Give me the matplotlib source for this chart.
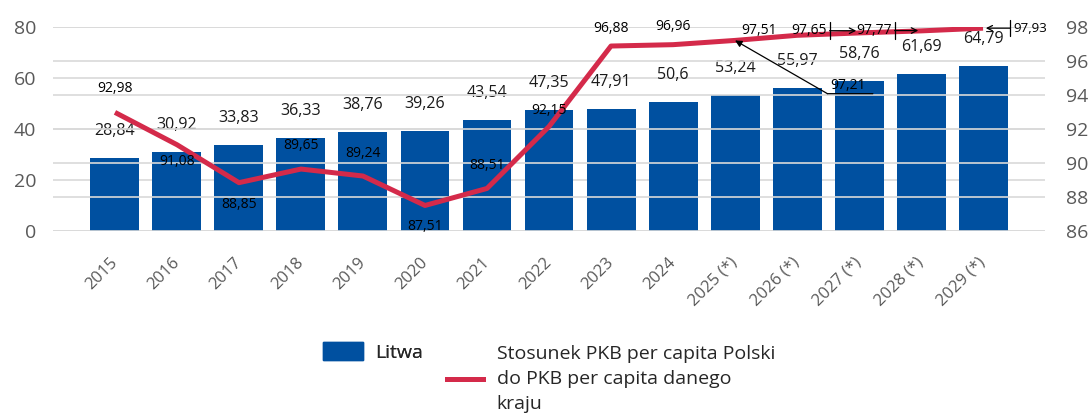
import matplotlib.pyplot as plt
import numpy as np

plt.rcParams['font.family'] = ['Open Sans', 'DejaVu Sans']

# data
years = ['2015', '2016', '2017', '2018', '2019', '2020', '2021', '2022', '2023', '2024',
         '2025 (*)', '2026 (*)', '2027 (*)', '2028 (*)', '2029 (*)']
litwa = [28.84, 30.92, 33.83, 36.33, 38.76, 39.26, 43.54, 47.35, 47.91, 50.6,
         53.24, 55.97, 58.76, 61.69, 64.79]
ratio = [92.98, 91.08, 88.85, 89.65, 89.24, 87.51, 88.51, 92.15, 96.88, 96.96,
         97.21, 97.51, 97.65, 97.77, 97.93]

# label offsets for the line labels (pixels)
ratio_off = [(0, 24), (0, -17), (0, -22), (0, 24), (0, 23), (0, -21), (0, 23), (0, 16),
             (0, 18), (0, 18), None, (-38, 5), None, None, None]

bar_col = '#0050A0'
line_col = '#D42A4A'
grid_col = '#D9D9D9'
tick_col = '#595959'

def fmt(v):
    return ('%g' % v).replace('.', ',')

fig = plt.figure(figsize=(10.92, 4.15), dpi=100)
ax = fig.add_axes([0.0485, 0.443, 0.9085, 0.492])
ax2 = ax.twinx()

x = np.arange(len(years))
ax.bar(x, litwa, width=0.79, color=bar_col, zorder=2)
ax.set_ylim(0, 80)
ax.set_yticks([0, 20, 40, 60, 80])
ax.set_xlim(-1, 15)
ax.set_xticks(x)
ax.set_xticklabels(years, rotation=45, ha='right', va='center', rotation_mode='anchor',
                   color=tick_col, fontsize=12)
ax.tick_params(axis='x', length=0, pad=21)
ax.tick_params(axis='y', length=0, labelsize=14, labelcolor=tick_col, pad=12)
ax.grid(axis='y', color=grid_col, lw=1.2, zorder=0)
ax.set_axisbelow(True)

ax2.set_ylim(86, 98)
ax2.set_yticks(np.arange(86, 99, 2))
ax2.tick_params(axis='y', length=0, labelsize=14, labelcolor=tick_col, pad=15)
ax2.grid(axis='y', color=grid_col, lw=1.2, zorder=0)
ax2.plot(x, ratio, color=line_col, lw=3.6, zorder=3, solid_capstyle='butt')

for a in (ax, ax2):
    for s in a.spines.values():
        s.set_visible(False)

# bar labels
for xi, v in zip(x, litwa):
    ax.annotate(fmt(v), (xi, v), xytext=(0, 27), textcoords='offset pixels',
                ha='center', va='center', fontsize=11.5, color='#1a1a1a', zorder=5)

# line labels
for xi, v, off in zip(x, ratio, ratio_off):
    if off is None:
        continue
    ax2.annotate(fmt(v), (xi, v), xytext=off, textcoords='offset pixels',
                 ha='center', va='center', fontsize=10, color='black', zorder=6)

# label moved away, with leader line and underline
lab = ax2.annotate(fmt(ratio[10]), (x[10], ratio[10]), xytext=(113, -45),
                   textcoords='offset pixels', ha='center', va='center', fontsize=10,
                   zorder=6)
ax2.annotate('', xy=(x[10], ratio[10]), xytext=(-0.08, -0.05), textcoords=lab,
             arrowprops=dict(arrowstyle='-|>', color='black', lw=0.9,
                             shrinkA=0, shrinkB=0), zorder=6)
ax2.annotate('', xy=(1.2, -0.05), xycoords=lab, xytext=(-0.08, -0.05), textcoords=lab,
             arrowprops=dict(arrowstyle='-', color='black', lw=0.9, shrinkA=0, shrinkB=0))

leader = dict(arrowstyle=']->, widthA=0.6, lengthA=0', color='black', lw=0.9,
              shrinkA=0, shrinkB=2)
ax2.annotate(fmt(ratio[12]), (x[12], ratio[12] + 0.13), xytext=(-50, 0),
             textcoords='offset pixels', ha='center', va='center', fontsize=10,
             arrowprops=dict(leader, relpos=(1.05, 0.5)), zorder=6)
ax2.annotate(fmt(ratio[13]), (x[13], ratio[13] + 0.02), xytext=(-47, 0),
             textcoords='offset pixels', ha='center', va='center', fontsize=10,
             arrowprops=dict(leader, relpos=(1.05, 0.5)), zorder=6)
ax2.annotate(fmt(ratio[14]), (x[14], ratio[14]), xytext=(47, 0),
             textcoords='offset pixels', ha='center', va='center', fontsize=9.5,
             arrowprops=dict(leader, relpos=(-0.05, 0.5)), zorder=6)

# legend, two separate blocks so "Litwa" sits at the top line
h1 = plt.Rectangle((0, 0), 1, 1, color=bar_col)
h2 = plt.Line2D([], [], color=line_col, lw=3.6)
leg1 = fig.legend([h1], ['Litwa'], loc='upper left', bbox_to_anchor=(0.296, 0.175),
                  frameon=False, fontsize=14, handlelength=2.06, handleheight=1.0,
                  handletextpad=0.6, borderpad=0, borderaxespad=0)
fig.add_artist(leg1)
leg2 = fig.legend([h2], ['Stosunek PKB per capita Polski\ndo PKB per capita danego\nkraju'],
                  loc='upper left', bbox_to_anchor=(0.409, 0.168),
                  frameon=False, fontsize=14, handlelength=1.86,
                  handletextpad=0.72, borderpad=0, borderaxespad=0)
for lg in (leg1, leg2):
    for t in lg.get_texts():
        t.set_color('#262626')
        t.set_linespacing(1.5)

fig.savefig('out.png', dpi=100)
